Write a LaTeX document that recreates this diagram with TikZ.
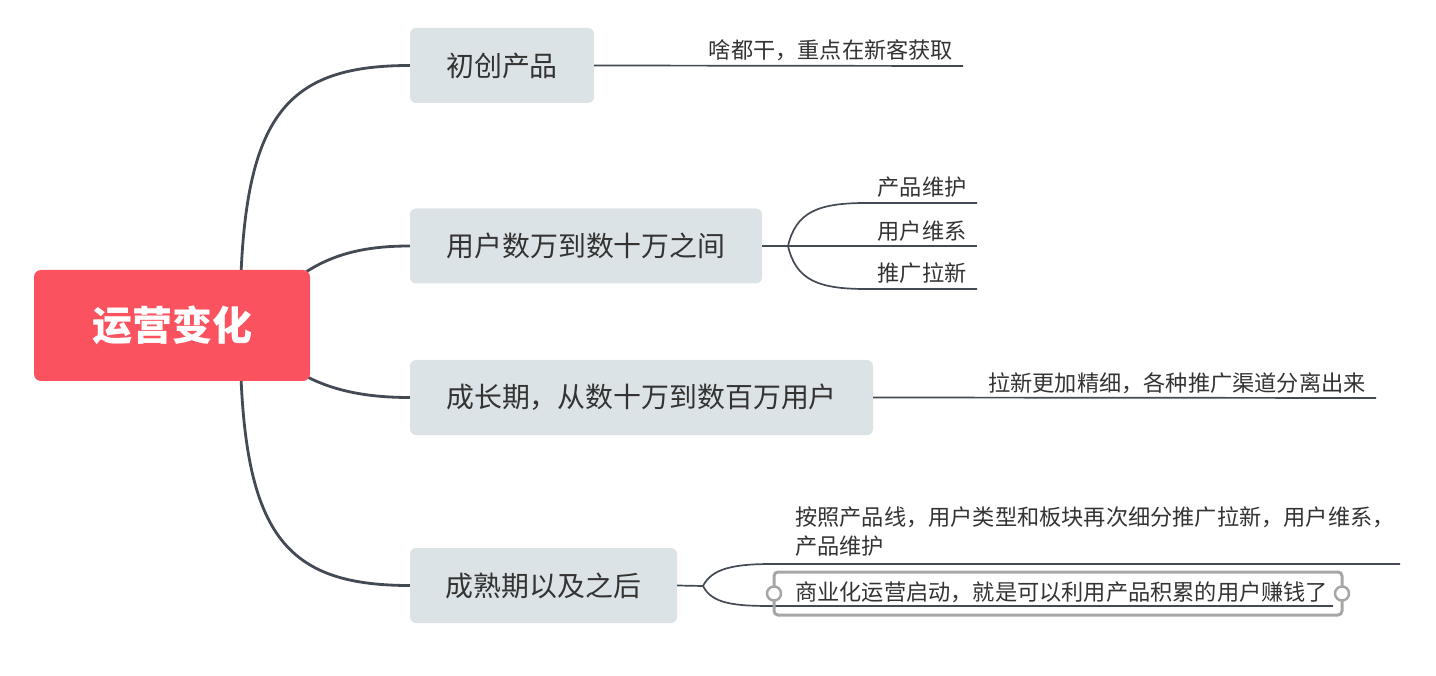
\documentclass[tikz,border=0pt]{standalone}
\usepackage{fontspec}
\newfontfamily\cjk{Noto Sans CJK SC}
\usetikzlibrary{backgrounds}
\definecolor{rootc}{RGB}{250,82,94}
\definecolor{branchc}{RGB}{220,227,230}
\definecolor{linec}{RGB}{67,74,84}
\definecolor{textc}{RGB}{51,51,51}
\definecolor{selc}{RGB}{166,166,166}
\begin{document}
\begin{tikzpicture}[x=1pt,y=-1pt,
  conn/.style={draw=linec, line width=2.8pt},
  subconn/.style={draw=linec, line width=1.7pt},
  rootbox/.style={fill=rootc, rounded corners=7pt, inner sep=0pt, text=white,
    minimum width=276pt, minimum height=111pt, font=\cjk\bfseries\fontsize{40}{46}\selectfont},
  branch/.style={fill=branchc, rounded corners=6pt, minimum height=75pt, inner sep=0pt,
    text=textc, font=\cjk\fontsize{27.9}{32}\selectfont},
  sub/.style={text=textc, inner sep=0pt, font=\cjk\fontsize{22.2}{29}\selectfont},
  selbox/.style={draw=selc, line width=3pt, rounded corners=4pt},
  handle/.style={circle, draw=selc, line width=2.5pt, fill=white, inner sep=0pt, minimum size=14pt},
]
\useasboundingbox (0,0) rectangle (1436,676);

% root and main branches
\node[rootbox] (root) at (172,325.5) {运营变化};
\node[branch, minimum width=184pt] (b1) at (502,65.5) {初创产品};
\node[branch, minimum width=352pt] (b2) at (586,246) {用户数万到数十万之间};
\node[branch, minimum width=463pt] (b3) at (641.5,397.5) {成长期，从数十万到数百万用户};
\node[branch, minimum width=267pt] (b4) at (543.5,585.5) {成熟期以及之后};

% hidden start points (under the root box)
\coordinate (r1) at (240,326);
\coordinate (r2) at (295,280);
\coordinate (r3) at (295,370);
\coordinate (r4) at (240,326);

\begin{scope}[on background layer]
\draw[conn] (r1) .. controls (240,120) and (280,65.5) .. (b1.west);
\draw[conn] (r2) .. controls (330,252) and (370,246) .. (b2.west);
\draw[conn] (r3) .. controls (330,392) and (370,397.5) .. (b3.west);
\draw[conn] (r4) .. controls (240,531) and (280,585.5) .. (b4.west);
\end{scope}

% branch 1 subtopic
\node[sub] (s11) at (831,50) {啥都干，重点在新客获取};
\coordinate (s11e) at (963,66);
\draw[subconn] (b1.east) -- (s11e);

% branch 2 subtopics
\coordinate (j2) at (788,246);
\node[sub] (s21) at (922,187) {产品维护};
\node[sub] (s22) at (922,231) {用户维系};
\node[sub] (s23) at (922,273) {推广拉新};
\coordinate (s21a) at (866,203); \coordinate (s21e) at (977,203);
\coordinate (s22e) at (977,246);
\coordinate (s23a) at (866,289); \coordinate (s23e) at (977,289);
\draw[subconn] (b2.east) -- (j2);
\draw[subconn] (j2) .. controls (796,212) and (818,203) .. (s21a) -- (s21e);
\draw[subconn] (j2) -- (s22e);
\draw[subconn] (j2) .. controls (796,280) and (818,289) .. (s23a) -- (s23e);

% branch 3 subtopic
\node[sub] (s31) at (1177,383) {拉新更加精细，各种推广渠道分离出来};
\coordinate (s31e) at (1376,398);
\draw[subconn] (b3.east) -- (s31e);

% branch 4 subtopics
\coordinate (j4) at (703,586);
\node[sub, anchor=north west, align=left] (s41) at (795,506)
  {按照产品线，用户类型和板块再次细分推广拉新，用户维系，\\产品维护};
\node[sub, anchor=west] (s42) at (795,592) {商业化运营启动，就是可以利用产品积累的用户赚钱了};
\coordinate (s41a) at (772,564); \coordinate (s41e) at (1400,564);
\coordinate (s42a) at (772,606); \coordinate (s42e) at (1333,606);
\draw[subconn] (b4.east) -- (j4);
\draw[subconn] (j4) .. controls (712,568) and (735,564) .. (s41a) -- (s41e);
\draw[subconn] (j4) .. controls (712,604) and (735,606) .. (s42a) -- (s42e);

% selection frame
\coordinate (selnw) at (774,572);
\coordinate (selse) at (1342,615);
\draw[selbox] (selnw) rectangle (selse);
\node[handle] (hl) at (774,593.5) {};
\node[handle] (hr) at (1342,593.5) {};
\end{tikzpicture}
\end{document}
